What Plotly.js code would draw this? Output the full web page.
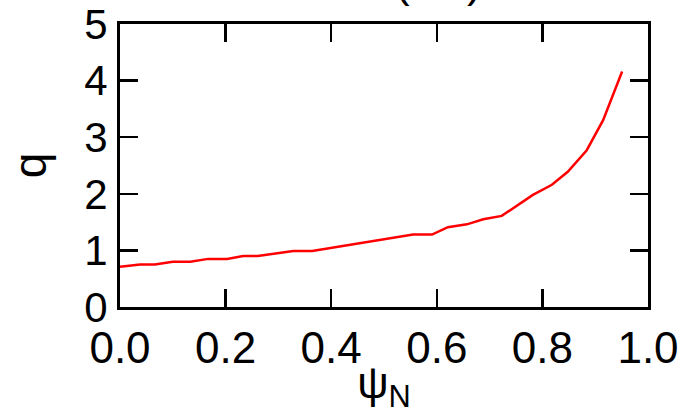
<!DOCTYPE html>
<html>
<head>
<meta charset="utf-8">
<script src="https://cdn.plot.ly/plotly-3.0.1.min.js"></script>
<style>html,body{margin:0;padding:0;background:#fff;}#chart{width:682px;height:414px;}</style>
</head>
<body>
<div id="chart"></div>
<script>
// Normalized poloidal flux (psi_N) and safety factor q
const psiN = [0.000, 0.038, 0.066, 0.100, 0.133, 0.167, 0.203, 0.233, 0.261, 0.328, 0.364,
              0.555, 0.591, 0.621, 0.657, 0.688, 0.723, 0.782, 0.818, 0.848, 0.884, 0.915, 0.951];
const qVals = [0.71, 0.75, 0.75, 0.80, 0.80, 0.85, 0.85, 0.90, 0.90, 0.99, 0.99,
               1.28, 1.28, 1.41, 1.46, 1.55, 1.61, 1.98, 2.16, 2.39, 2.77, 3.30, 4.16];
const xTicks = [0, 0.2, 0.4, 0.6, 0.8, 1.0];
const yTicks = [0, 1, 2, 3, 4, 5];

const font = {family: 'Liberation Sans, Arial, sans-serif', color: '#000'};

const trace = {
  x: psiN, y: qVals, type: 'scatter', mode: 'lines',
  line: {color: '#ff0000', width: 2.5},
  showlegend: false, hoverinfo: 'skip'
};

const axisCommon = {
  showgrid: false, zeroline: false, showline: true, linecolor: '#000', linewidth: 3,
  mirror: 'ticks', ticks: 'inside', ticklen: 18, tickwidth: 2.5, tickcolor: '#000',
  ticklabeloverflow: 'allow'
};

const layout = {
  width: 682, height: 414,
  margin: {l: 120, r: 34, t: 24, b: 107},
  paper_bgcolor: '#fff', plot_bgcolor: '#fff',
  font: font,
  xaxis: Object.assign({}, axisCommon, {
    range: [0, 1], tickvals: xTicks, tickformat: '.1f',
    tickfont: Object.assign({size: 44}, font),
    ticklabelstandoff: 0,
    title: {text: 'ψ<sub>N</sub>', font: Object.assign({size: 44}, font), standoff: 7}
  }),
  yaxis: Object.assign({}, axisCommon, {
    range: [0, 5], tickvals: yTicks,
    tickfont: Object.assign({size: 42}, font),
    ticklabelstandoff: 1,
    title: {text: 'q', font: Object.assign({size: 46}, font), standoff: 24}
  }),
  annotations: [
    {text: '(', xref: 'paper', yref: 'paper', x: (393 - 120) / 528, y: 1, xanchor: 'left', yanchor: 'bottom',
     yshift: 16, showarrow: false, font: Object.assign({size: 44}, font)},
    {text: ')', xref: 'paper', yref: 'paper', x: (484 - 120) / 528, y: 1, xanchor: 'right', yanchor: 'bottom',
     yshift: 16, showarrow: false, font: Object.assign({size: 44}, font)}
  ]
};

Plotly.newPlot('chart', [trace], layout, {staticPlot: true, displayModeBar: false});
</script>
</body>
</html>
